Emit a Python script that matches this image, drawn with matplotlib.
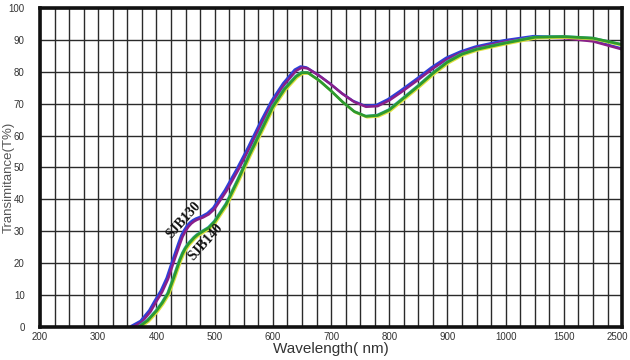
import numpy as np
import matplotlib
matplotlib.use('Agg')
from matplotlib import pyplot as plt
import matplotlib.patheffects as pe
from matplotlib.transforms import ScaledTranslation

plt.rcParams['font.family'] = ['Liberation Sans', 'DejaVu Sans']

# readings from the chart (wavelength nm, transmittance %)
wl_130 = [360, 375, 390, 400, 410, 420, 430, 440, 445, 450, 455, 460, 465, 470,
          480, 490, 500, 520, 540, 560, 580, 600, 620, 640, 650, 660, 680, 700,
          720, 740, 760, 780, 800, 820, 850, 875, 900, 925, 950, 1000, 1250,
          1500, 2000, 2500]
t_130 = [0, 1.5, 4.8, 8, 11, 15, 20.5, 25.8, 28.3, 30, 31.4, 32.4, 33.1, 33.6,
         34.3, 35.3, 37, 42.5, 49, 56, 63.5, 70.5, 76, 80.3, 81.3, 81, 78.7, 76,
         73, 70.5, 69, 69.2, 71, 73.5, 77.5, 81, 84, 86, 87.5, 89.5, 90.8,
         90.5, 89.5, 87]

wl_140 = [370, 385, 400, 410, 420, 430, 440, 445, 450, 455, 460, 465, 470,
          480, 490, 500, 520, 540, 560, 580, 600, 620, 640, 650, 660, 680, 700,
          720, 740, 760, 780, 800, 820, 850, 875, 900, 925, 950, 1000, 1250,
          1500, 2000, 2500]
t_140 = [0, 2, 5, 7.5, 10.5, 15.5, 20.8, 23, 24.7, 26, 27, 28, 28.8,
         30, 31.1, 33, 38.5, 46, 54, 61.5, 69, 74.5, 78.5, 79.7, 79.7, 77.2, 74,
         70.5, 67.5, 66, 66.3, 68, 71, 75.5, 79.5, 83, 85.5, 87, 89, 90.8,
         91, 90.5, 88.5]

x_ticks = [200, 300, 400, 500, 600, 700, 800, 900, 1000, 1500, 2500]
y_ticks = list(range(0, 101, 10))

# broken wavelength axis: 100 nm steps up to 1000, then 1500 and 2500
wl_break = [200, 1000, 1500, 2500]
pos_break = [0, 8, 9, 10]


def fwd(x):
    return np.interp(x, wl_break, pos_break, left=np.nan, right=np.nan)


def inv(p):
    return np.interp(p, pos_break, wl_break, left=np.nan, right=np.nan)


fig = plt.figure(figsize=(6.3, 3.6), dpi=100)
ax = fig.add_axes([0.0635, 0.092, 0.924, 0.886])
ax.set_xscale('function', functions=(fwd, inv))
ax.set_xlim(200, 2500)
ax.set_ylim(0, 100)

ax.set_xticks(x_ticks)
ax.set_xticklabels([str(v) for v in x_ticks])
ax.set_xticks(inv(np.arange(0, 10.01, 0.25)), minor=True)
ax.set_yticks(y_ticks)
ax.tick_params(which='both', length=0, labelsize=7, colors='#333333')
ax.tick_params(axis='x', pad=4)
ax.tick_params(axis='y', pad=11)
last = ax.get_xticklabels()[-1]
last.set_transform(last.get_transform() + ScaledTranslation(-5 / 100, 0, fig.dpi_scale_trans))
ax.grid(True, which='both', axis='x', color='#2a2a2a', lw=1.0)
ax.grid(True, which='major', axis='y', color='#2a2a2a', lw=1.0)
ax.set_axisbelow(True)
for s in ax.spines.values():
    s.set_linewidth(2.6)
    s.set_color('#111111')

# SJB130: blue + magenta pair
ax.plot(wl_130, t_130, color='#8a1f8a', lw=1.8, solid_joinstyle='round',
        path_effects=[pe.Stroke(linewidth=1.8, foreground='#2f3fd8', offset=(-1.0, 0.8)),
                      pe.Normal()])
# SJB140: green with yellow edge
ax.plot(wl_140, t_140, color='#2e9a2e', lw=2.0, solid_joinstyle='round',
        path_effects=[pe.Stroke(linewidth=1.6, foreground='#e0e040', offset=(0.8, -0.8)),
                      pe.Stroke(linewidth=1.2, foreground='#30a8c8', offset=(-0.6, 0.5)),
                      pe.Normal()])

ax.text(446, 33.5, 'SJB130', rotation=48, fontsize=10, fontweight='bold',
        family='Liberation Serif', color='#111111', ha='center', va='center')
ax.text(485, 26.6, 'SJB140', rotation=48, fontsize=10, fontweight='bold',
        family='Liberation Serif', color='#111111', ha='center', va='center')

ax.set_xlabel('Wavelength( nm)', fontsize=11, color='#333333', labelpad=0)
ax.set_ylabel('Transimitance(T%)', fontsize=9.5, color='#555555')
ax.yaxis.set_label_coords(-0.044, 0.47)

fig.savefig('out.png', dpi=100)
